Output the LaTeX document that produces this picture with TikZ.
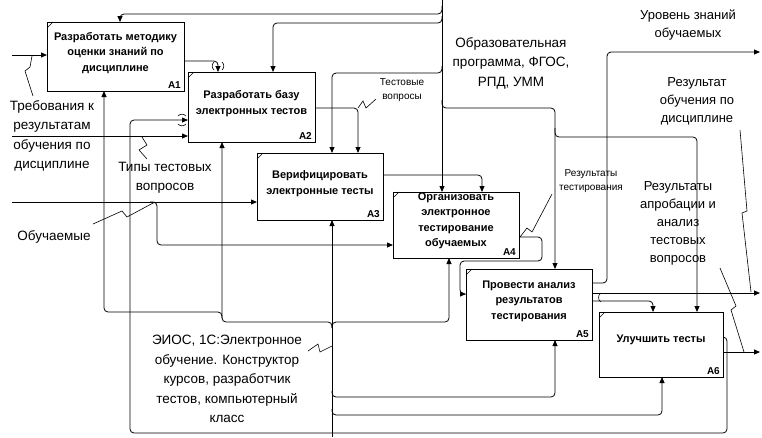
\documentclass[tikz,border=0pt]{standalone}
\usepackage{fontspec}
\setmainfont{Liberation Sans}
\usetikzlibrary{arrows.meta,calc}
\begin{document}
\begin{tikzpicture}[x=1pt,y=-1pt,
  box/.style={draw,line width=0.9pt,rectangle,inner sep=0pt,outer sep=0pt,anchor=north west},
  boxtxt/.style={font=\bfseries\fontsize{11}{15.5}\selectfont,align=center,inner sep=0pt},
  idtxt/.style={font=\bfseries\fontsize{10}{12}\selectfont,inner sep=0pt,anchor=south east},
  lbl/.style={font=\fontsize{13.5}{19.5}\selectfont,align=center,inner sep=0pt},
  rlbl/.style={font=\fontsize{13}{18}\selectfont,align=center,inner sep=0pt},
  slbl/.style={font=\fontsize{10}{14.5}\selectfont,align=center,inner sep=0pt},
  arr/.style={line width=0.8pt,-{Triangle[length=6pt,width=5pt]}},
  rc/.style={rounded corners=4pt},
  sq/.style={line width=0.6pt},
  ln/.style={line width=0.8pt}
]
\fill[white] (0,0) rectangle (762,437);
\useasboundingbox (0,0) rectangle (762,437);

% boxes
\node[box,minimum width=137pt,minimum height=69pt] (A1) at (47,22) {};
\node[box,minimum width=127pt,minimum height=70pt] (A2) at (188,72) {};
\node[box,minimum width=126pt,minimum height=67pt] (A3) at (257,153) {};
\node[box,minimum width=126pt,minimum height=66pt] (A4) at (393,192) {};
\node[box,minimum width=126pt,minimum height=71pt] (A5) at (466,269) {};
\node[box,minimum width=124pt,minimum height=65pt] (A6) at (599,312) {};
\foreach \n in {A1,A2,A3,A4,A5,A6}
  \draw[line width=0.5pt] ([yshift=-6pt]\n.north west) -- ([xshift=6pt]\n.north west);

\node[boxtxt] (t1) at ([yshift=3.5pt]A1.center) {Разработать методику\\оценки знаний по\\дисциплине};
\node[boxtxt] (t2) at ([yshift=3.5pt]A2.center) {Разработать базу\\электронных тестов};
\node[boxtxt] (t3) at ([yshift=3pt]A3.center) {Верифицировать\\электронные тесты};
\node[boxtxt] (t4) at ([yshift=4pt]A4.center) {Организовать\\электронное\\тестирование\\обучаемых};
\node[boxtxt] (t5) at ([yshift=3.5pt]A5.center) {Провести анализ\\результатов\\тестирования};
\node[boxtxt] (t6) at ([yshift=4.5pt]A6.center) {Улучшить тесты};
\foreach \n in {1,...,6}
  \node[idtxt] (n\n) at ([xshift=-3pt,yshift=2.5pt]A\n.south east) {A\n};

% free ends
\coordinate (ctop) at (442,0);
\coordinate (i1) at (12,55);
\coordinate (i2) at (12,136);
\coordinate (i3) at (12,202);
\coordinate (m0) at (332,437);
\coordinate (o1) at (760,52);
\coordinate (o2) at (760,293);
\coordinate (o3) at (760,352);

% controls
\draw[arr] (ctop) -- (A4.north -| ctop);
\draw[arr,rc] (442,6) -- (442,14) -- (120,14) -- (A1.north -| 120,0);
\draw[arr,rc] (442,16) -- (442,23) -- (273,23) -- (A2.north -| 273,0);
\draw[arr,rc] (442,66) -- (442,73) -- (332,73) -- (A3.north -| 332,0);
\draw[arr,rc] (442,100) -- (442,108) -- (555,108) -- (A5.north -| 555,0);
\draw[arr,rc] (555,128) -- (555,137) -- (697,137) -- (A6.north -| 697,0);

% box to box
\draw[arr,rc] (A1.east |- 0,61) -- (218,61) -- (A2.north -| 218,0);
\draw[line width=0.6pt] (214,62) to[bend right=50] (214,70);
\draw[line width=0.6pt] (222,62) to[bend left=50] (222,70);
\draw[arr,rc] (A2.east |- 0,108) -- (358,108) -- (A3.north -| 358,0);
\draw[arr,rc] (A3.east |- 0,175) -- (482,175) -- (A4.north -| 482,0);
\draw[arr,rc] (A4.east |- 0,237) -- (542,237) -- (542,261) -- (460,261) -- (460,294) -- (A5.west |- 0,294);
\draw[arr,rc] (A5.east |- 0,283) -- (607,283) -- (607,52) -- (o1);
\draw[arr] (A5.east |- 0,293) -- (o2);
\draw[arr,rc] (A5.east |- 0,301) -- (653,301) -- (A6.north -| 653,0);
\draw[line width=0.6pt] (601,293) to[bend right=70] (601,302);
\draw[arr] (A6.east |- 0,352) -- (o3);
\draw[arr,rc] (A6.east |- 0,337) -- (727,337) -- (727,433) -- (130,433) -- (130,120) -- (A2.west |- 0,120);
\draw[line width=0.6pt] (178,116) to[bend left=50] (186,116);
\draw[line width=0.6pt] (178,124) to[bend right=50] (186,124);

% inputs
\draw[arr] (i1) -- (A1.west |- i1);
\draw[arr] (i2) -- (A2.west |- i2);
\draw[arr] (i3) -- (A3.west |- i3);
\draw[arr,rc] (150,202) -- (157,202) -- (157,245) -- (A4.west |- 0,245);

% mechanisms
\draw[arr] (m0) -- (A3.south -| m0);
\draw[arr,rc] (332,328) -- (332,322) -- (222,322) -- (A2.south -| 222,0);
\draw[arr,rc] (222,318) -- (222,312) -- (104,312) -- (A1.south -| 104,0);
\draw[arr,rc] (332,328) -- (332,322) -- (449,322) -- (A4.south -| 449,0);
\draw[arr,rc] (332,391) -- (332,397) -- (555,397) -- (A5.south -| 555,0);
\draw[arr,rc] (332,409) -- (332,415) -- (662,415) -- (A6.south -| 662,0);

% labels
\node[lbl] (L1) at (52,136) {Требования к\\результатам\\обучения по\\дисциплине};
\node[lbl] (L2) at (165,178) {Типы тестовых\\вопросов};
\node[lbl] (L3) at (54,237) {Обучаемые};
\node[lbl] (L4) at (511,63) {Образовательная\\программа, ФГОС,\\РПД, УММ};
\node[slbl] (L5) at (402,90) {Тестовые\\вопросы};
\node[rlbl] (L6) at (688,25) {Уровень знаний\\обучаемых};
\node[rlbl] (L7) at (697,101) {Результат\\обучения по\\дисциплине};
\node[slbl] (L8) at (591,181) {Результаты\\тестирования};
\node[rlbl] (L9) at (678,223) {Результаты\\апробации и\\анализ\\тестовых\\вопросов};
\node[lbl] (L10) at (227,379) {ЭИОС, 1С:Электронное\\обучение. Конструктор\\курсов, разработчик\\тестов, компьютерный\\класс};

% leaders
\draw[sq] (32,56) -- (30,67) -- (25,71) -- (33,96);
\draw[sq] (142,137) -- (147,145) -- (139,150) -- (147,159);
\draw[sq] (155,202) -- (127,217) -- (122,211) -- (93,224);
\draw[sq] (358,108) -- (363,101) -- (366,108) -- (376,99);
\draw[sq] (520,237) -- (527,228) -- (532,232) -- (552,194);
\draw[sq] (740,130) -- (747,211) -- (742,213) -- (751,292);
\draw[sq] (720,268) -- (736,306) -- (731,310) -- (744,352);
\draw[sq] (308,351) -- (318,344) -- (320,352) -- (332,346);
\end{tikzpicture}
\end{document}
